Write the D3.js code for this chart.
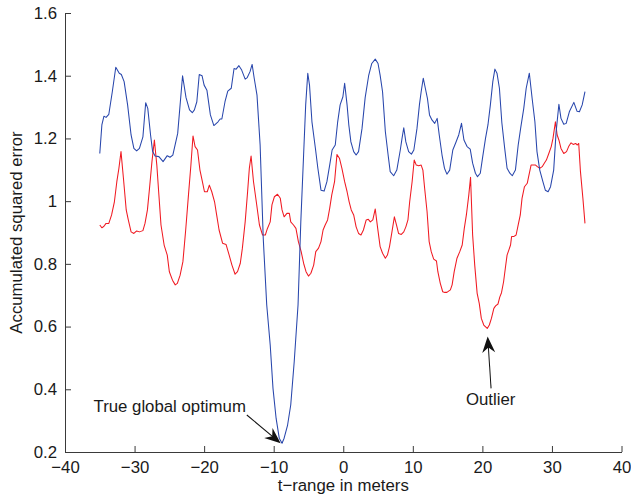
<!DOCTYPE html>
<html>
<head>
<meta charset="utf-8">
<script src="https://cdn.jsdelivr.net/npm/d3@7"></script>
<style>
  html, body { margin: 0; padding: 0; background: #fff; }
  svg { display: block; font-family: "Liberation Sans", Arial, Helvetica, sans-serif; }
</style>
</head>
<body>
<svg id="chart" width="631" height="497"></svg>
<script>
// Accumulated squared error vs. t-range offset (m)
const blueT = [-35.0,-34.7,-34.4,-34.1,-33.7,-33.2,-32.7,-32.2,-31.9,-31.5,-31.0,-30.5,-30.1,-29.7,-29.3,-28.8,-28.4,-28.1,-27.7,-27.4,-27.05,-26.5,-25.9,-25.3,-24.9,-24.5,-23.8,-23.1,-22.6,-22.1,-21.7,-21.4,-21.05,-20.7,-20.3,-20.0,-19.6,-19.1,-18.6,-18.0,-17.7,-17.45,-17.0,-16.6,-16.1,-15.7,-15.4,-15.0,-14.6,-14.1,-13.8,-13.4,-13.1,-12.8,-12.4,-11.95,-11.5,-11.0,-10.5,-10.1,-9.65,-9.2,-8.8,-8.5,-8.0,-7.55,-7.05,-6.5,-6.1,-5.7,-5.4,-5.1,-4.85,-4.5,-4.0,-3.65,-3.2,-2.75,-2.35,-1.95,-1.6,-1.15,-0.8,-0.45,-0.05,0.2,0.55,0.8,1.1,1.5,1.85,2.2,2.7,3.15,3.65,4.1,4.6,5.0,5.3,5.65,6.05,6.45,6.75,7.25,7.7,8.2,8.45,8.7,9.0,9.4,9.8,10.15,10.6,10.95,11.2,11.5,11.8,12.1,12.4,12.75,13.15,13.5,13.8,14.2,14.55,14.9,15.3,15.75,16.2,16.6,17.0,17.35,17.8,18.25,18.6,19.0,19.3,19.7,20.05,20.45,20.8,21.15,21.5,21.8,22.1,22.45,22.8,23.2,23.55,23.95,24.3,24.75,25.15,25.5,25.95,26.3,26.75,27.15,27.55,27.85,28.25,28.7,29.05,29.45,29.8,30.25,30.6,31.0,31.3,31.7,32.05,32.5,33.15,33.6,33.95,34.35,34.75];
const blueErr = [1.152,1.243,1.271,1.267,1.277,1.349,1.427,1.408,1.404,1.381,1.307,1.211,1.168,1.160,1.168,1.205,1.314,1.296,1.211,1.158,1.144,1.142,1.126,1.145,1.140,1.147,1.216,1.400,1.330,1.291,1.282,1.291,1.317,1.404,1.400,1.370,1.354,1.275,1.241,1.253,1.262,1.262,1.317,1.351,1.360,1.423,1.421,1.432,1.418,1.389,1.394,1.413,1.436,1.392,1.338,1.179,0.881,0.669,0.541,0.403,0.307,0.244,0.228,0.244,0.286,0.350,0.488,0.669,0.934,1.147,1.307,1.408,1.370,1.253,1.168,1.105,1.035,1.032,1.062,1.115,1.163,1.179,1.253,1.307,1.333,1.376,1.307,1.243,1.189,1.158,1.147,1.158,1.232,1.330,1.400,1.439,1.453,1.439,1.402,1.349,1.222,1.147,1.094,1.081,1.099,1.163,1.200,1.234,1.189,1.158,1.150,1.163,1.232,1.307,1.349,1.392,1.360,1.328,1.275,1.259,1.248,1.264,1.211,1.147,1.105,1.086,1.099,1.163,1.188,1.211,1.248,1.195,1.174,1.166,1.121,1.089,1.078,1.089,1.142,1.200,1.243,1.307,1.381,1.421,1.408,1.360,1.250,1.170,1.105,1.089,1.081,1.099,1.179,1.232,1.296,1.360,1.408,1.328,1.253,1.158,1.099,1.062,1.035,1.030,1.046,1.099,1.221,1.309,1.264,1.245,1.248,1.285,1.315,1.287,1.285,1.307,1.349];

const redT = [-35.0,-34.7,-34.4,-34.1,-33.7,-33.3,-32.9,-32.55,-32.25,-31.95,-31.6,-31.2,-30.9,-30.5,-30.1,-29.7,-29.3,-28.8,-28.5,-28.15,-27.85,-27.5,-27.15,-26.8,-26.5,-26.2,-25.75,-25.3,-25.0,-24.55,-24.15,-23.85,-23.45,-23.05,-22.65,-22.25,-21.9,-21.6,-21.3,-20.95,-20.6,-20.25,-19.95,-19.55,-19.25,-18.9,-18.5,-18.2,-17.85,-17.35,-16.85,-16.4,-16.0,-15.55,-15.2,-14.8,-14.5,-14.1,-13.75,-13.5,-13.25,-12.9,-12.5,-12.05,-11.6,-11.2,-10.9,-10.5,-10.25,-9.9,-9.45,-9.05,-8.8,-8.5,-8.1,-7.75,-7.55,-7.15,-6.8,-6.45,-6.05,-5.7,-5.35,-5.0,-4.65,-4.25,-3.95,-3.55,-3.2,-2.9,-2.6,-2.25,-1.95,-1.65,-1.25,-0.9,-0.55,-0.2,0.2,0.55,0.85,1.15,1.5,1.85,2.2,2.55,2.9,3.3,3.6,3.9,4.25,4.6,4.95,5.3,5.65,6.05,6.35,6.65,7.0,7.35,7.65,7.95,8.35,8.7,9.0,9.3,9.55,9.9,10.2,10.5,10.85,11.2,11.45,11.7,12.05,12.35,12.65,13.0,13.4,13.6,13.95,14.3,14.6,14.9,15.4,15.65,15.95,16.35,16.75,17.1,17.4,17.7,18.05,18.3,18.6,18.9,19.25,19.55,19.85,20.2,20.7,21.0,21.3,21.65,21.9,22.25,22.5,22.75,23.05,23.3,23.55,23.8,24.05,24.2,24.5,24.85,25.15,25.45,25.7,26.05,26.45,26.65,27.0,27.3,27.65,27.9,28.25,28.6,28.9,29.2,29.55,29.9,30.15,30.5,30.75,31.0,31.3,31.7,32.1,32.4,32.75,33.05,33.4,33.65,33.85,34.1,34.45,34.75];
const redErr = [0.924,0.915,0.920,0.929,0.929,0.956,0.998,1.062,1.105,1.158,1.073,0.972,0.940,0.902,0.897,0.905,0.902,0.906,0.929,0.972,1.041,1.126,1.195,1.115,1.019,0.924,0.860,0.828,0.775,0.748,0.733,0.738,0.764,0.807,0.908,1.020,1.115,1.208,1.174,1.163,1.099,1.062,1.030,1.030,1.051,1.030,0.998,0.956,0.908,0.866,0.862,0.828,0.796,0.767,0.775,0.802,0.850,0.934,1.030,1.105,1.144,1.062,0.998,0.924,0.892,0.892,0.913,0.934,0.988,1.014,1.022,1.009,0.972,0.950,0.961,0.961,0.934,0.924,0.913,0.871,0.839,0.802,0.775,0.761,0.770,0.796,0.839,0.850,0.871,0.908,0.924,0.940,0.977,1.020,1.062,1.149,1.137,1.105,1.062,1.030,0.998,0.972,0.956,0.918,0.897,0.892,0.908,0.940,0.942,0.934,0.940,0.975,0.913,0.855,0.834,0.818,0.828,0.855,0.902,0.950,0.924,0.897,0.894,0.902,0.918,0.940,0.998,1.062,1.131,1.115,1.113,1.115,1.099,1.041,0.966,0.871,0.839,0.815,0.809,0.775,0.738,0.711,0.709,0.709,0.717,0.733,0.775,0.818,0.839,0.860,0.913,0.956,1.020,1.076,0.892,0.796,0.706,0.674,0.626,0.605,0.594,0.605,0.626,0.658,0.666,0.672,0.694,0.708,0.743,0.786,0.828,0.844,0.860,0.887,0.887,0.892,0.924,0.956,1.009,1.046,1.057,1.078,1.115,1.115,1.115,1.110,1.105,1.110,1.121,1.131,1.152,1.174,1.200,1.253,1.211,1.195,1.168,1.152,1.158,1.174,1.186,1.181,1.184,1.179,1.184,1.094,1.009,0.929];

const xTicks = [-40, -30, -20, -10, 0, 10, 20, 30, 40];
const yTicks = [0.2, 0.4, 0.6, 0.8, 1, 1.2, 1.4, 1.6];
const yTickLabels = ["0.2", "0.4", "0.6", "0.8", "1", "1.2", "1.4", "1.6"];

const xLabel = "t\u2212range in meters";
const yLabel = "Accumulated squared error";

// annotations: [text, text x, text y, tail x, tail y, tip x, tip y, anchor]
const noteOptimum = ["True global optimum", -35.9, 0.329, -13.86, 0.318, -9.0, 0.228, "start"];
const noteOutlier = ["Outlier", 21.19, 0.35, 21.25, 0.403, 20.76, 0.568, "middle"];

const svg = d3.select("#chart");
const fontSize = 16.8;

const x = d3.scaleLinear().domain([-40, 40]).range([65, 621.5]);
const y = d3.scaleLinear().domain([0.2, 1.6]).range([452, 13]);

// axes
const xAxis = d3.axisBottom(x).tickValues(xTicks).tickSizeInner(-6).tickSizeOuter(0).tickPadding(9.5);
const yAxis = d3.axisLeft(y).tickValues(yTicks)
  .tickFormat((d, i) => yTickLabels[i]).tickSizeInner(-6).tickSizeOuter(0).tickPadding(8);

const gx = svg.append("g").attr("transform", `translate(0,${y.range()[0]})`).call(xAxis);
const gy = svg.append("g").attr("transform", `translate(${x.range()[0]},0)`).call(yAxis);

[gx, gy].forEach(g => {
  g.select(".domain").attr("stroke", "#3a3a3a").attr("stroke-width", 1);
  g.selectAll(".tick line").attr("stroke", "#3a3a3a").attr("stroke-width", 1);
  g.selectAll(".tick text").attr("fill", "#1a1a1a").attr("font-size", fontSize)
    .attr("font-family", '"Liberation Sans", Arial, sans-serif');
});

// curves
const line = d3.line().x(d => x(d[0])).y(d => y(d[1]));
const blue = blueT.map((t, i) => [t, blueErr[i]]);
const red = redT.map((t, i) => [t, redErr[i]]);

svg.append("path").datum(red).attr("d", line)
  .attr("fill", "none").attr("stroke", "#f01a22").attr("stroke-width", 1.05)
  .attr("stroke-linejoin", "round");
svg.append("path").datum(blue).attr("d", line)
  .attr("fill", "none").attr("stroke", "#2846ac").attr("stroke-width", 1.05)
  .attr("stroke-linejoin", "round");

// axis titles
svg.append("text")
  .attr("x", (x.range()[0] + x.range()[1]) / 2).attr("y", 491)
  .attr("text-anchor", "middle").attr("font-size", fontSize).attr("fill", "#1a1a1a")
  .text(xLabel);
svg.append("text")
  .attr("transform", `translate(22,${(y.range()[0] + y.range()[1]) / 2}) rotate(-90)`)
  .attr("text-anchor", "middle").attr("font-size", fontSize).attr("fill", "#1a1a1a")
  .text(yLabel);

// text arrows
function textArrow(note) {
  const [label, tx, ty, ax, ay, bx, by, anchor] = note;
  const g = svg.append("g");
  g.append("text").attr("x", x(tx)).attr("y", y(ty))
    .attr("text-anchor", anchor).attr("font-size", fontSize).attr("fill", "#1a1a1a")
    .text(label);
  const x0 = x(ax), y0 = y(ay), x1 = x(bx), y1 = y(by);
  const ang = Math.atan2(y1 - y0, x1 - x0) * 180 / Math.PI;
  const len = Math.hypot(x1 - x0, y1 - y0);
  const ag = g.append("g").attr("transform", `translate(${x0},${y0}) rotate(${ang})`);
  ag.append("line").attr("x1", 0).attr("y1", 0).attr("x2", len - 8).attr("y2", 0)
    .attr("stroke", "#111").attr("stroke-width", 1);
  const L = 16, W = 6.5, N = 11;
  ag.append("path")
    .attr("d", `M${len},0 L${len - L},${-W} L${len - N},0 L${len - L},${W} Z`)
    .attr("fill", "#111");
}
textArrow(noteOptimum);
textArrow(noteOutlier);
</script>
</body>
</html>
